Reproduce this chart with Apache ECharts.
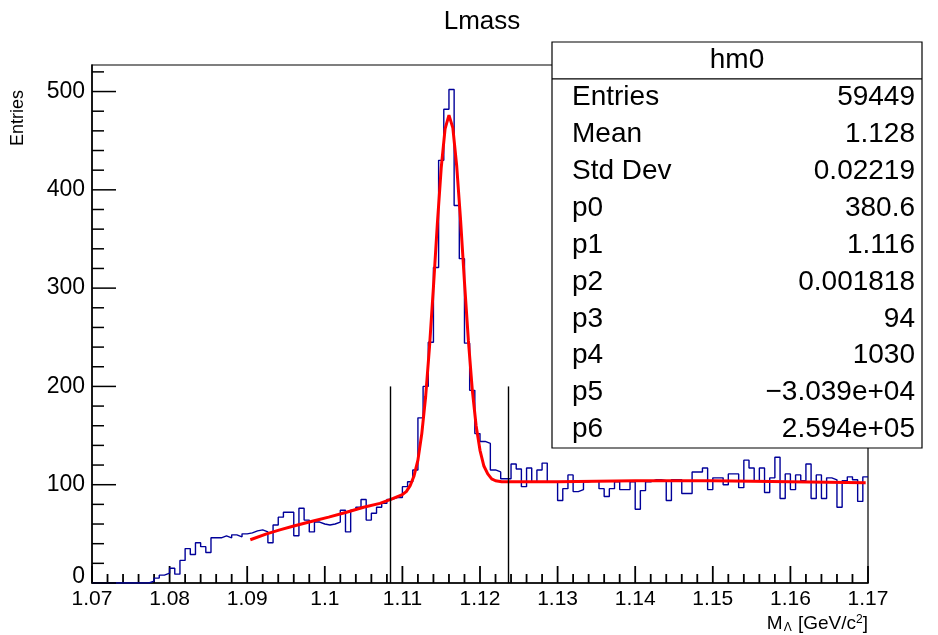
<!DOCTYPE html>
<html>
<head>
<meta charset="utf-8">
<title>Lmass</title>
<script src="https://cdn.jsdelivr.net/npm/echarts@6/dist/echarts.min.js"></script>
<style>
  html, body { margin: 0; padding: 0; background: #fff; }
  #chart { width: 938px; height: 635px; }
</style>
</head>
<body>
<div id="chart"></div>
<script>
  // hm0 : 150 bins between 1.07 and 1.17
  var xMin = 1.07
  var xMax = 1.17
  var nBins = 150
  var binCounts = [
    0, 0, 0, 0, 0, 0, 0, 0, 0, 0,
    0, 2, 5, 8, 10, 15, 9, 23, 35, 29,
    41, 37, 31, 46, 46, 48, 46, 49, 47, 50,
    51, 53, 54, 52, 41, 59, 67, 72, 72, 48,
    76, 64, 52, 62, 60, 59, 60, 62, 74, 52,
    74, 77, 85, 64, 71, 77, 81, 85, 87, 87,
    98, 103, 115, 168, 200, 245, 321, 430, 482, 502,
    384, 330, 244, 196, 152, 144, 142, 115, 113, 106,
    106, 121, 116, 98, 117, 103, 115, 122, 103, 103,
    84, 96, 110, 93, 95, 103, 104, 104, 96, 88,
    96, 103, 95, 95, 103, 75, 94, 103, 105, 105,
    104, 84, 105, 105, 91, 91, 113, 113, 117, 95,
    107, 107, 100, 111, 111, 97, 125, 117, 104, 117,
    92, 107, 128, 86, 111, 95, 110, 104, 121, 86,
    110, 86, 107, 105, 77, 104, 108, 105, 83, 108
  ]

  // fit curve (red)
  var fitX = [1.0904, 1.0925, 1.0942, 1.0960, 1.0985, 1.1005, 1.1028, 1.1050, 1.1071, 1.1085,
    1.1100, 1.1105, 1.1110, 1.1115, 1.1120, 1.1125, 1.1130, 1.1135, 1.1140, 1.1145,
    1.1150, 1.1155, 1.1160, 1.1165, 1.1170, 1.1175, 1.1180, 1.1185, 1.1190, 1.1195,
    1.1200, 1.1205, 1.1210, 1.1215, 1.1220, 1.1228, 1.1240, 1.1300, 1.1400, 1.1500,
    1.1600, 1.1697]
  var fitY = [44, 50, 54, 58, 63, 67, 72, 77, 81, 85,
    90, 93, 99, 109, 125, 152, 190, 241, 301, 365,
    422, 462, 476, 463, 424, 369, 306, 247, 197, 160,
    135, 119, 111, 106, 104, 103, 103, 103, 104, 104,
    103, 102]

  var cutX = [1.1084, 1.1236]
  var cutTop = 200

  var xMajor = 0.01
  var xMinorStep = 0.002
  var yMajor = 100
  var yMinorStep = 20
  var yMax = 527

  var statNames = ['Entries', 'Mean', 'Std Dev', 'p0', 'p1', 'p2', 'p3', 'p4', 'p5', 'p6']
  var statValues = ['59449', '1.128', '0.02219', '380.6', '1.116', '0.001818', '94', '1030', '\u22123.039e+04', '2.594e+05']

  var font = 'Liberation Sans, Arial, Helvetica, sans-serif'

  var binW = (xMax - xMin) / nBins
  var histData = []
  for (var i = 0; i < nBins; i++) {
    histData.push([xMin + i * binW, binCounts[i]])
  }
  histData.push([xMax, binCounts[nBins - 1]])

  var fitData = fitX.map(function (x, k) { return [x, fitY[k]] })

  // y axis inside ticks
  var yTickVals = [], yTickLen = []
  for (var b = 0; b * yMinorStep < yMax; b++) {
    yTickVals.push([xMin, b * yMinorStep])
    yTickLen.push(b % 5 === 0 ? 24 : 12)
  }

  var chart = echarts.init(document.getElementById('chart'))

  var black = { color: '#000', width: 1.5 }

  // stats box
  var boxX = 552, boxY = 42, boxW = 370, boxH = 406
  var rowH = boxH / 11
  var statFont = '28px ' + font
  var stats = [
    { type: 'rect', shape: { x: boxX, y: boxY, width: boxW, height: boxH },
      style: { fill: '#fff', stroke: '#000', lineWidth: 1.2 } },
    { type: 'line', shape: { x1: boxX, y1: boxY + rowH, x2: boxX + boxW, y2: boxY + rowH },
      style: { stroke: '#000', lineWidth: 1.2 } },
    { type: 'text', x: boxX + boxW / 2, y: boxY + rowH / 2,
      style: { text: 'hm0', font: statFont, fill: '#000', textAlign: 'center', textVerticalAlign: 'middle' } }
  ]
  statNames.forEach(function (name, k) {
    var cy = boxY + rowH * (k + 1.5)
    stats.push({ type: 'text', x: boxX + 20, y: cy,
      style: { text: name, font: statFont, fill: '#000', textAlign: 'left', textVerticalAlign: 'middle' } })
    stats.push({ type: 'text', x: boxX + boxW - 7, y: cy,
      style: { text: statValues[k], font: statFont, fill: '#000', textAlign: 'right', textVerticalAlign: 'middle' } })
  })

  var graphics = [
    { id: 'title', type: 'text', x: 482, y: 22, z: 100,
      style: { text: 'Lmass', font: '26px ' + font, fill: '#000', textAlign: 'center', textVerticalAlign: 'middle' } },
    { id: 'ytitle', type: 'text', x: 18, y: 90, rotation: Math.PI / 2, z: 100,
      style: { text: 'Entries', font: '18px ' + font, fill: '#000', textAlign: 'right', textVerticalAlign: 'middle' } },
    { id: 'xtitle', type: 'text', x: 868, y: 624, z: 100,
      style: {
        text: '{m|M}{sub|\u039b}{m| [GeV/c}{sup|2}{m|]}',
        textAlign: 'right', textVerticalAlign: 'middle',
        rich: {
          m: { font: '19px ' + font, fill: '#000', lineHeight: 20 },
          sub: { font: '12px ' + font, fill: '#000', verticalAlign: 'bottom', lineHeight: 20, padding: [6, 1, 0, 1] },
          sup: { font: '12px ' + font, fill: '#000', verticalAlign: 'top', lineHeight: 20 }
        }
      } },
    { id: 'stats', type: 'group', z: 100, children: stats }
  ]

  var option = {
    animation: false,
    backgroundColor: '#fff',
    grid: { left: 92, right: 70, top: 65, bottom: 52, show: true, borderColor: '#000', borderWidth: 1.2, backgroundColor: 'transparent' },
    xAxis: {
      type: 'value', min: xMin, max: xMax, interval: xMajor,
      axisLine: { show: true, lineStyle: black },
      splitLine: { show: false },
      axisTick: { show: false },
      axisLabel: {
        color: '#000', fontSize: 21, fontFamily: font, margin: 6,
        formatter: function (val) { return String(parseFloat(val.toFixed(3))) }
      }
    },
    yAxis: {
      type: 'value', min: 0, max: yMax, interval: yMajor,
      axisLine: { show: true, lineStyle: black },
      splitLine: { show: false },
      axisTick: { show: false },
      axisLabel: {
        color: '#000', fontSize: 23, fontFamily: font, margin: 7, showMaxLabel: false,
        formatter: function (val) { return val === 0 ? '{z|0}' : String(val) },
        rich: { z: { fontSize: 23, fontFamily: font, color: '#000', padding: [0, 0, 12, 0] } }
      }
    },
    series: [
      {
        name: 'hm0', type: 'line', step: 'end',
        data: histData, symbol: 'none',
        lineStyle: { color: '#000099', width: 1.4 },
        markLine: {
          silent: true, symbol: 'none', label: { show: false },
          lineStyle: { color: '#000', width: 1.4, type: 'solid' },
          data: cutX.map(function (x) { return [{ coord: [x, 0] }, { coord: [x, cutTop] }] })
        }
      },
      {
        name: 'fit', type: 'line',
        data: fitData, symbol: 'none',
        lineStyle: { color: '#ff0000', width: 3 }
      },
      {
        name: 'yticks', type: 'custom', silent: true, clip: false, z: 5,
        data: yTickVals,
        renderItem: function (params, api) {
          var p = api.coord([api.value(0), api.value(1)])
          var len = yTickLen[params.dataIndex]
          return { type: 'rect', shape: { x: p[0], y: p[1] - 0.75, width: len, height: 1.5 }, style: { fill: '#000' } }
        }
      }
    ],
    graphic: graphics
  }

  chart.setOption(option)

  // x axis inside ticks, placed through the chart's own x scale
  var xTickEls = []
  for (var a = 0; a <= 50; a++) {
    var p = chart.convertToPixel({ gridIndex: 0 }, [xMin + a * xMinorStep, 0])
    var len = a % 5 === 0 ? 17 : 9
    xTickEls.push({ type: 'rect', shape: { x: p[0] - 0.9, y: p[1] - len, width: 1.8, height: len }, style: { fill: '#000' } })
  }
  chart.setOption({ graphic: graphics.concat([{ id: 'xticks', type: 'group', z: 150, children: xTickEls }]) })

  window.addEventListener('resize', function () { chart.resize() })
</script>
</body>
</html>
